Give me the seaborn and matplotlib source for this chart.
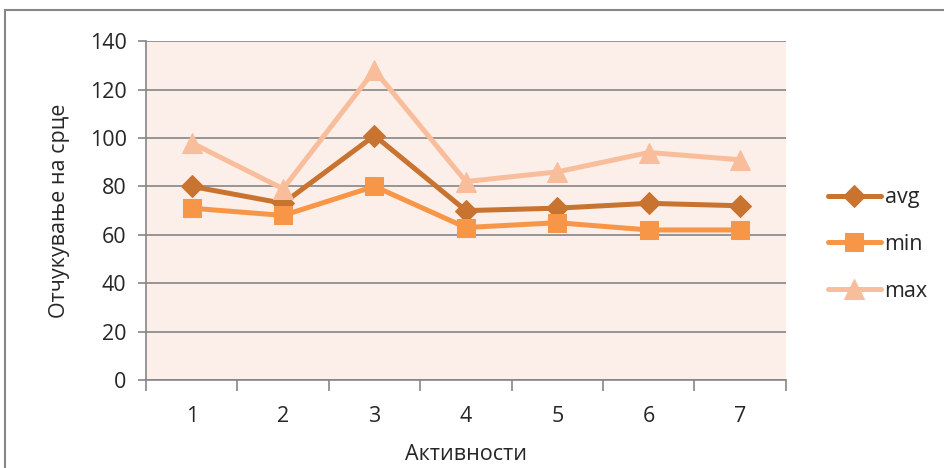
import numpy as np
import pandas as pd
import matplotlib.pyplot as plt
import seaborn as sns
from matplotlib.patches import Rectangle
from matplotlib.ticker import MultipleLocator, FixedLocator

activities = [1, 2, 3, 4, 5, 6, 7]
avg = [80, 73, 101, 70, 71, 73, 72]
mn = [71, 68, 80, 63, 65, 62, 62]
mx = [98, 79, 128, 82, 86, 94, 91]

df = pd.DataFrame({
    "act": activities * 3,
    "val": avg + mn + mx,
    "series": ["avg"] * 7 + ["min"] * 7 + ["max"] * 7,
})

sns.set_style("white")
plt.rcParams["font.family"] = ["Open Sans", "DejaVu Sans"]

fig = plt.figure(figsize=(9.45, 4.68), dpi=100)
ax = fig.add_axes([0.1545, 0.188, 0.677, 0.724])

colors = {"avg": "#C8732F", "min": "#F79646", "max": "#F8BE9C"}
markers = {"avg": "D", "min": "s", "max": "^"}
sizes = {"avg": 11, "min": 13, "max": 14}

for s in ["avg", "min", "max"]:
    d = df[df["series"] == s]
    sns.lineplot(data=d, x="act", y="val", ax=ax, color=colors[s], marker=markers[s],
                 markersize=sizes[s], markeredgecolor=colors[s], linewidth=3.6, label=s)

ax.set_facecolor("#FCEEE8")
ax.set_xlim(0.5, 7.5)
ax.set_ylim(0, 140)
ax.yaxis.set_major_locator(MultipleLocator(20))
ax.grid(axis="y", color="#868686", linewidth=1.2)
ax.set_axisbelow(True)

ax.xaxis.set_major_locator(FixedLocator(np.arange(0.5, 8, 1)))
ax.xaxis.set_minor_locator(FixedLocator(activities))
ax.set_xticklabels([])
ax.set_xticklabels([str(a) for a in activities], minor=True)
ax.tick_params(axis="x", which="major", length=8, width=1.2, color="#868686", direction="out", bottom=True)
ax.tick_params(axis="x", which="minor", length=0, labelsize=15.5, pad=19)
ax.tick_params(axis="y", length=6, width=1.2, color="#868686", direction="out", left=True, labelsize=15.5, pad=8)

for side in ["top", "right"]:
    ax.spines[side].set_visible(False)
for side in ["left", "bottom"]:
    ax.spines[side].set_color("#868686")
    ax.spines[side].set_linewidth(1.2)

ax.set_xlabel("Активности", fontsize=15.5, labelpad=12)
ax.set_ylabel("Отчукување на срце", fontsize=15.5, labelpad=14)

leg = ax.legend(loc="center left", bbox_to_anchor=(1.035, 0.4), frameon=False,
                fontsize=15.5, handlelength=2.5, labelspacing=1.2, handletextpad=0.15)

fig.patches.append(Rectangle((5 / 945, -0.05), 1.0, 1 - 10 / 468 + 0.05, transform=fig.transFigure,
                             fill=False, edgecolor="#868686", linewidth=1.5))

fig.savefig("out.png", dpi=100)
